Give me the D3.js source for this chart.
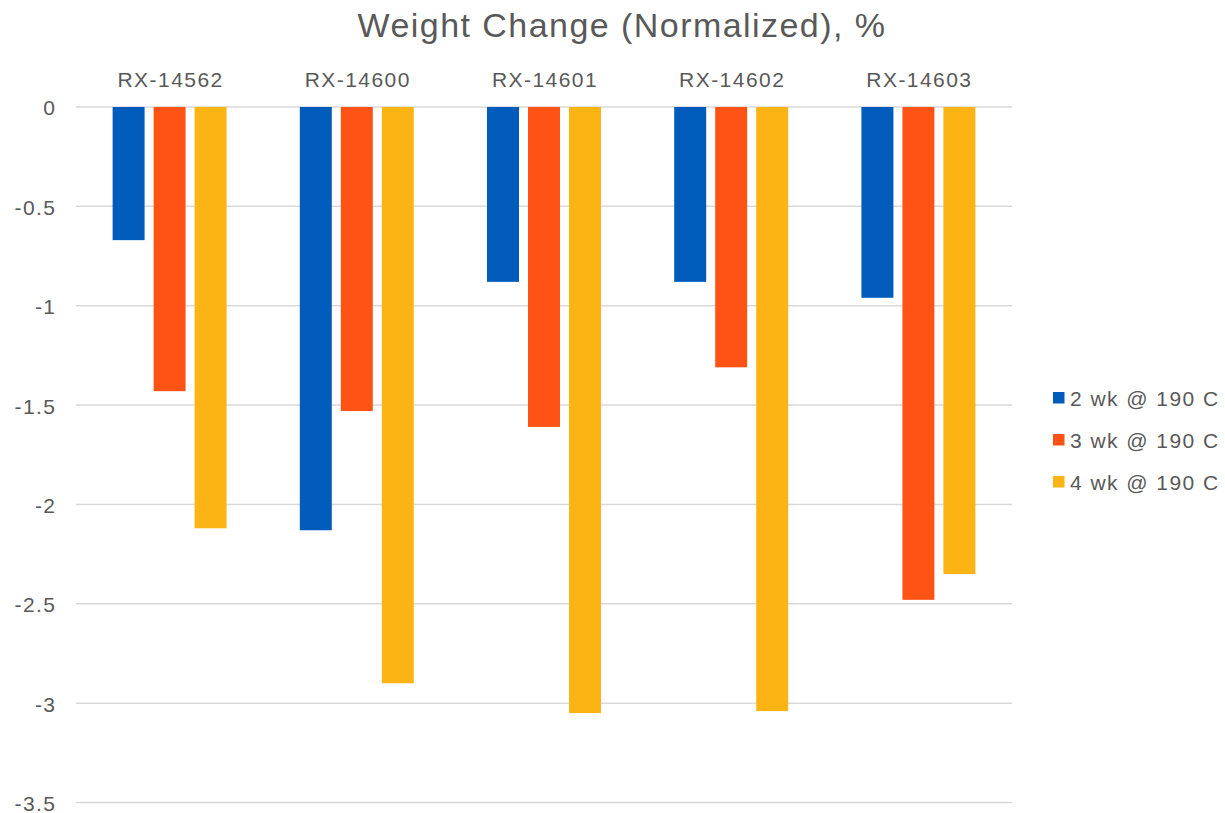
<!DOCTYPE html>
<html>
<head>
<meta charset="utf-8">
<script src="https://cdn.jsdelivr.net/npm/d3@7"></script>
<style>
  html, body { margin: 0; padding: 0; background: #fff; }
  text { font-family: "Liberation Sans", Arial, sans-serif; fill: #595959; letter-spacing: 1.45px; }
</style>
</head>
<body>
<svg id="chart" width="1225" height="813"></svg>
<script>
// Samples and heat-aging series
const categories = ["RX-14562", "RX-14600", "RX-14601", "RX-14602", "RX-14603"];
const seriesNames = ["2 wk @ 190 C", "3 wk @ 190 C", "4 wk @ 190 C"];
const seriesColors = ["#005BBB", "#FF5215", "#FCB415"];
const wk2 = [-0.67, -2.13, -0.88, -0.88, -0.96];
const wk3 = [-1.43, -1.53, -1.61, -1.31, -2.48];
const wk4 = [-2.12, -2.90, -3.05, -3.04, -2.35];
const yTicks = [0, -0.5, -1, -1.5, -2, -2.5, -3, -3.5];

const series = [wk2, wk3, wk4];

const svg = d3.select("#chart");
const plot = { left: 76, right: 1012, top: 107, bottom: 802.5 };

const y = d3.scaleLinear().domain([0, -3.5]).range([plot.top, plot.bottom]);
const x0 = d3.scaleBand().domain(categories).range([plot.left, plot.right]).padding(0);
const x1 = d3.scaleBand().domain(d3.range(series.length))
  .range([0, x0.bandwidth()]).paddingInner(0.22).paddingOuter(0.893);

// Title
svg.append("text")
  .attr("x", 622).attr("y", 37)
  .attr("text-anchor", "middle")
  .style("font-size", "34px")
  .text("Weight Change (Normalized), %");

// Horizontal gridlines
svg.append("g").selectAll("line").data(yTicks).join("line")
  .attr("x1", plot.left).attr("x2", plot.right)
  .attr("y1", d => y(d)).attr("y2", d => y(d))
  .attr("stroke", "#d9d9d9").attr("stroke-width", 1.5);

// Y axis labels (plain hyphen-minus, as in the spreadsheet style)
const yAxis = d3.axisLeft(y).tickValues(yTicks).tickSize(0).tickPadding(0)
  .tickFormat(d => String(d));
const gy = svg.append("g").attr("transform", `translate(56.5,0)`).call(yAxis);
gy.select(".domain").remove();
gy.selectAll("text").attr("fill", null).attr("dy", "0.38em")
  .style("font-size", "21px")
  .style("font-family", "'Liberation Sans', Arial, sans-serif");

// Category labels along the top
svg.append("g").selectAll("text").data(categories).join("text")
  .attr("x", d => x0(d) + x0.bandwidth() / 2 + 1)
  .attr("y", 87)
  .attr("text-anchor", "middle")
  .style("font-size", "21px")
  .text(d => d);

// Bars
const groups = svg.append("g").selectAll("g").data(categories).join("g")
  .attr("transform", d => `translate(${x0(d)},0)`);
groups.selectAll("rect")
  .data((c, ci) => series.map((s, si) => ({ si, v: s[ci] })))
  .join("rect")
  .attr("x", d => x1(d.si))
  .attr("width", x1.bandwidth())
  .attr("y", d => y(Math.max(0, d.v)))
  .attr("height", d => Math.abs(y(d.v) - y(0)))
  .attr("fill", d => seriesColors[d.si]);

// Legend
const legend = svg.append("g").selectAll("g").data(seriesNames).join("g")
  .attr("transform", (d, i) => `translate(1053,${398 + i * 42})`);
legend.append("rect")
  .attr("x", 0).attr("y", -6).attr("width", 11.5).attr("height", 11.5)
  .attr("fill", (d, i) => seriesColors[i]);
legend.append("text")
  .attr("x", 17).attr("y", 7.5)
  .style("font-size", "21px")
  .text(d => d);
</script>
</body>
</html>
